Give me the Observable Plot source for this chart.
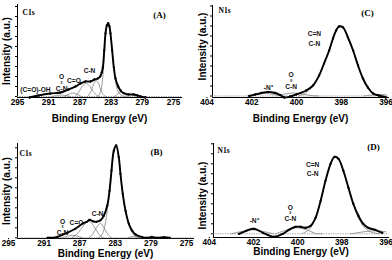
<!DOCTYPE html>
<html><head><meta charset="utf-8">
<script src="https://cdn.jsdelivr.net/npm/d3@7"></script>
<script src="https://cdn.jsdelivr.net/npm/@observablehq/plot@0.6"></script>
<style>
html,body{margin:0;padding:0;background:#fff;}
#wrap{position:relative;width:392px;height:260px;overflow:hidden;background:#fff;}
#wrap > div{position:absolute;}
</style></head><body><div id="wrap"></div>
<script>
// ---------- tick labels ----------
const c1sTicks = [295, 291, 287, 283, 279, 275];
const n1sTicks = [404, 402, 400, 398, 396];

// ---------- Panel A (C1s) : [binding energy eV, intensity a.u.] ----------
const aEnvelope = [[293.46,-1],[292.31,1],[290.77,3],[289.49,4],[288.46,7],[287.56,10],[286.92,13],[286.28,15],[285.64,15],[285.13,17],[284.7,18],[284.4,20],[284.2,24],[284.06,29],[283.88,46],[283.72,63],[283.55,71],[283.37,73.3],[283.21,70],[283.08,63],[282.86,46],[282.65,29],[282.44,18],[282.09,10],[281.79,6],[281.37,3.3],[280.77,2],[280.13,2],[279.62,1],[279.23,0],[278.59,-1]];
const aMain = [[284.6,0.5],[284.3,6],[284.06,20],[283.88,40],[283.72,60],[283.55,70],[283.37,73],[283.21,70],[283.08,62],[282.86,45],[282.65,28],[282.44,16],[282.2,7],[281.9,2.5],[281.5,0.5],[281.1,0]];
const aCN = [[286.0,0],[285.6,5],[285.2,13],[284.9,16],[284.6,13],[284.3,6],[283.9,1],[283.6,0]];
const aCO = [[287.6,0],[287.1,5],[286.6,11],[286.2,13],[285.8,11],[285.3,5],[284.8,1],[284.5,0]];
const aOCN = [[289.0,0],[288.5,2],[287.9,3.5],[287.3,2],[286.8,0]];
const aCOOH = [[290.6,0],[290.0,1],[289.4,1.5],[288.8,1],[288.2,0]];
const aLow = [[282.6,0],[282.2,2],[281.8,4],[281.3,2],[280.8,0]];

// ---------- Panel B (C1s) ----------
const bEnvelope = [[290.6,0],[289.5,1],[288.4,5],[287.5,9],[286.7,14],[286.2,16],[285.9,18],[285.5,16.5],[285.1,16],[284.66,17.5],[284.29,22],[283.91,32],[283.65,47],[283.43,67],[283.17,87],[282.9,92.3],[282.61,80.6],[282.42,64],[282.16,44],[281.85,27],[281.48,14],[281.1,7],[280.73,3.3],[279.98,0.6],[279.4,0],[278.9,0.8],[278.3,0],[277.5,0.5],[276.9,0]];
const bMain = [[284.9,0],[284.5,3],[284.1,15],[283.9,28],[283.65,44],[283.43,64],[283.17,85],[282.9,92],[282.61,80.6],[282.42,64],[282.16,44],[281.85,27],[281.5,13],[281.1,5],[280.7,1.5],[280.2,0]];
const bCN = [[286.0,0],[285.6,3],[285.2,9],[284.66,14.5],[284.2,9],[283.8,3],[283.4,0]];
const bCO = [[287.9,0],[287.4,3],[286.9,8],[286.4,14],[286.0,16.5],[285.6,14],[285.1,7],[284.7,2],[284.3,0]];
const bOCN = [[289.0,0],[288.4,1.5],[287.8,2.5],[287.2,1.5],[286.7,0]];
const bLow = [[281.6,0],[281.0,1.2],[280.4,0]];

// ---------- Panel C (N1s) ----------
const cEnvelope = [[402.11,0],[401.84,1.5],[401.57,3],[401.26,4],[400.95,3],[400.73,1],[400.55,-1.5],[400.28,-0.5],[400.01,1.5],[399.57,5.5],[399.26,10.5],[398.99,20.5],[398.77,32.5],[398.54,45.5],[398.37,57.5],[398.23,65.5],[398.10,69.5],[397.92,68.5],[397.70,58.5],[397.47,45.5],[397.25,30.5],[397.03,17.5],[396.81,8.5],[396.58,2.5],[396.32,0.5],[396.0,-1.5]];
const cMain = [[399.9,0],[399.6,3],[399.3,9],[399.0,20],[398.77,32.5],[398.54,45.5],[398.37,57.5],[398.1,69.5],[397.92,68.5],[397.7,58.5],[397.47,45.5],[397.25,30.5],[397.03,17],[396.81,8],[396.58,3],[396.3,0.5],[396.0,0]];
const cNplus = [[402.2,0],[401.85,1.5],[401.45,2.5],[401.0,1.5],[400.6,0]];
const cOCN = [[400.9,0],[400.55,1.8],[400.15,3],[399.75,2],[399.35,0.5],[399.0,0]];
const cLow = [[397.0,0],[396.6,1],[396.2,1.5],[396.0,1.3]];

// ---------- Panel D (N1s) ----------
const dEnvelope = [[402.65,0],[402.33,3],[401.97,5],[401.57,1],[401.07,-3],[400.67,0],[400.40,4],[400.09,7],[399.86,7],[399.64,6],[399.41,8],[399.19,16],[398.96,33],[398.74,53],[398.51,70],[398.33,77],[398.15,75],[397.93,63],[397.70,46],[397.48,30],[397.25,18],[397.03,10],[396.80,6],[396.49,4],[396.17,1]];
const dMain = [[399.8,0],[399.5,4],[399.25,13],[399.0,30],[398.74,52],[398.51,70],[398.33,77],[398.15,75],[397.93,63],[397.7,46],[397.48,29],[397.25,16],[397.0,7],[396.7,2],[396.3,0]];
const dNplus = [[403.0,0],[402.5,2.5],[402.0,4],[401.6,2.5],[401.1,0]];
const dOCN = [[401.0,0],[400.6,3],[400.1,6],[399.6,4],[399.2,0.5],[398.9,0]];
const dLow = [[397.6,0],[397.0,2],[396.5,3],[396.0,2]];

// ---------- annotations ----------
const aLabels = [{e:292.7,i:7,t:"(C=O)-OH"},{e:287.76,i:16,t:"C=O"},{e:285.77,i:26,t:"C-N"}];
const aAmide = [{e:289.35,i:13.5}];
const bLabels = [{e:287.36,i:16,t:"C=O"},{e:285.0,i:25,t:"C-N"}];
const bAmide = [{e:288.93,i:10}];
const cLabels = [{e:401.26,i:8.5,t:"-N⁺"},{e:399.2,i:58,t:"C=N\nC-N"}];
const cAmide = [{e:400.24,i:14.5}];
const dLabels = [{e:401.97,i:14,t:"-N⁺"},{e:399.32,i:65,t:"C=N\nC-N"}];
const dAmide = [{e:400.33,i:20}];

const SANS = "'Liberation Sans Narrow','Arial Narrow','Liberation Sans',Arial,sans-serif";
const SERIF = "'Liberation Serif','Times New Roman',serif";

function panel(o) {
  const env = o.envelope.map(([e, i]) => ({e, i}));
  const comps = o.components.flatMap((c, k) => c.map(([e, i]) => ({e, i, k})));
  const lab = {x: "e", y: "i", fontSize: 6.6, fontWeight: "bold", fill: "#111"};
  const svg = Plot.plot({
    width: o.w, height: o.h,
    marginLeft: o.m[0], marginRight: o.m[1], marginTop: o.m[2], marginBottom: o.m[3],
    style: {fontFamily: SANS, fontWeight: "bold", fontSize: "8.2px", color: "#000", background: "transparent", overflow: "visible"},
    x: {domain: o.xDomain, range: o.xRange, ticks: o.ticks, tickSize: 1.2, tickPadding: 0, tickFormat: d => String(d), label: null, line: true},
    y: {domain: o.yDomain, ticks: 9, tickSize: 2, tickFormat: () => "", label: null, line: true},
    marks: [
      Plot.ruleY([0], {stroke: "#8c8c8c", strokeWidth: 0.9, strokeDasharray: "1.2,1.2"}),
      Plot.line(comps, {x: "e", y: "i", z: "k", stroke: "#7a7a7a", strokeWidth: 0.75, curve: "catmull-rom"}),
      Plot.line(env, {x: "e", y: "i", stroke: "#000", strokeWidth: 1.9, curve: "catmull-rom"}),
      Plot.dot(env, {x: "e", y: "i", r: 1.15, fill: "#000", stroke: "none"}),
      Plot.text(o.labels, {...lab, text: "t", lineHeight: 1.4}),
      Plot.text(o.amide, {...lab, text: () => "O", dy: -6.2}),
      Plot.text(o.amide, {...lab, text: () => "‖", fontSize: 4, dy: -0.6}),
      Plot.text(o.amide, {...lab, text: () => "C-N", dy: 5.4}),
      Plot.text([o.core], {text: d => d, frameAnchor: "top-left", textAnchor: "start", lineAnchor: "middle", dx: o.coreD[0], dy: o.coreD[1], fontFamily: SERIF, fontSize: 7.5, fontWeight: "bold"}),
      Plot.text([o.letter], {text: d => d, frameAnchor: "top-right", textAnchor: "middle", lineAnchor: "middle", dx: o.letterD[0], dy: o.letterD[1], fontFamily: SERIF, fontSize: 9, fontWeight: "bold"}),
      Plot.text(["Binding Energy (eV)"], {text: d => d, frameAnchor: "bottom", lineAnchor: "middle", dy: o.titleDy, fontSize: 10, fontWeight: "bold"}),
      Plot.text(["Intensity (a.u.)"], {text: d => d, frameAnchor: "left", textAnchor: "middle", lineAnchor: "middle", rotate: -90, dx: o.yTitleD[0], dy: o.yTitleD[1], fontSize: 10, fontWeight: "bold"})
    ]
  });
  const div = document.createElement("div");
  div.style.left = o.left + "px";
  div.style.top = o.top + "px";
  div.appendChild(svg);
  document.getElementById("wrap").appendChild(div);
}

panel({left: 0, top: 0, w: 196, h: 128, m: [17, 15, 4, 31],
  xDomain: [295, 275], xRange: [17, 173], yDomain: [-1, 92], ticks: c1sTicks,
  envelope: aEnvelope, components: [aMain, aCN, aCO, aOCN, aCOOH, aLow], labels: aLabels, amide: aAmide,
  core: "C1s", coreD: [5, 8], letter: "(A)", letterD: [-22, 11], titleDy: 21, yTitleD: [-11, 0]});

panel({left: 0, top: 130, w: 196, h: 130, m: [17, 3, 13, 22],
  xDomain: [295, 275], xRange: [8, 186], yDomain: [-0.7, 94.3], ticks: c1sTicks,
  envelope: bEnvelope, components: [bMain, bCN, bCO, bOCN, bLow], labels: bLabels, amide: bAmide,
  core: "C1s", coreD: [2, 10], letter: "(B)", letterD: [-37, 9], titleDy: 15.5, yTitleD: [-11, 0]});

panel({left: 196, top: 0, w: 196, h: 128, m: [16, 4, 5, 31],
  xDomain: [404, 396], xRange: [10.5, 189.5], yDomain: [-1.5, 90.5], ticks: n1sTicks,
  envelope: cEnvelope, components: [cMain, cNplus, cOCN, cLow], labels: cLabels, amide: cAmide,
  core: "N1s", coreD: [6, 5], letter: "(C)", letterD: [-21, 8], titleDy: 21, yTitleD: [-10, -5]});

panel({left: 196, top: 130, w: 196, h: 130, m: [17, 4, 13, 23],
  xDomain: [404, 396], xRange: [12.8, 189.5], yDomain: [-3.7, 90.3], ticks: n1sTicks,
  envelope: dEnvelope, components: [dMain, dNplus, dOCN, dLow], labels: dLabels, amide: dAmide,
  core: "N1s", coreD: [4, 7], letter: "(D)", letterD: [-15, 4], titleDy: 14.5, yTitleD: [-11, 5]});
</script></body></html>
